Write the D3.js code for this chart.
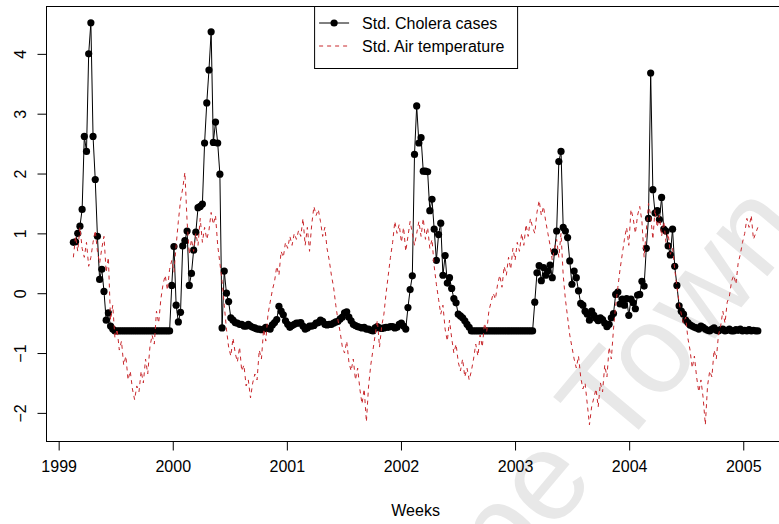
<!DOCTYPE html>
<html><head><meta charset="utf-8">
<script src="https://cdn.jsdelivr.net/npm/d3@7"></script>
<style>body{margin:0;background:#fff}svg{display:block}</style>
</head><body><svg id="c" width="779" height="524"></svg>
<script>
// ---- data ----
const startYear = 1999.129;          // decimal year of first weekly observation
const weekStep = 7 / 365.25;         // one week in years
const cholera = [
0.85,0.86,1.0,1.12,1.4,2.62,2.37,4.0,4.52,2.62,1.9,0.95,0.23,0.4,0.03,-0.45,-0.33,-0.55,-0.6,
-0.63,-0.63,-0.63,-0.63,-0.63,-0.63,-0.63,-0.63,-0.63,-0.63,-0.63,-0.63,-0.63,-0.63,-0.63,-0.63,-0.63,-0.63,-0.63,-0.63,-0.63,-0.63,-0.63,-0.63,-0.63,-0.63,
0.13,0.78,-0.2,-0.48,-0.32,0.79,0.88,1.04,0.13,0.33,0.72,1.02,1.43,1.45,1.49,2.51,3.18,3.73,4.37,2.52,2.86,2.51,1.99,-0.58,0.37,0.0,-0.14,-0.41,
-0.45,-0.49,-0.5,-0.52,-0.52,-0.55,-0.55,-0.52,-0.55,-0.57,
-0.58,-0.6,-0.6,-0.61,-0.6,-0.57,-0.59,-0.6,-0.53,-0.49,
-0.44,-0.22,-0.3,-0.36,-0.46,-0.52,-0.57,-0.54,-0.52,-0.5,
-0.5,-0.49,-0.55,-0.6,-0.58,-0.55,-0.55,-0.54,-0.5,-0.49,
-0.45,-0.47,-0.52,-0.53,-0.52,-0.52,-0.5,-0.48,-0.47,-0.43,
-0.4,-0.33,-0.31,-0.4,-0.46,-0.52,-0.54,-0.56,-0.57,-0.58,
-0.57,-0.6,-0.6,-0.62,-0.63,-0.58,-0.56,-0.58,-0.59,-0.58,
-0.57,-0.57,-0.56,-0.56,-0.58,-0.57,-0.52,-0.5,-0.55,-0.6,
-0.24,0.06,0.29,2.32,3.13,2.51,2.6,2.04,2.04,2.03,
1.38,1.57,1.07,0.55,0.98,1.17,0.3,0.63,0.17,0.26,
0.08,-0.09,-0.16,-0.35,-0.38,-0.41,-0.46,-0.52,-0.57,
-0.63,-0.63,-0.63,-0.63,-0.63,-0.63,-0.63,-0.63,-0.63,-0.63,-0.63,-0.63,-0.63,-0.63,-0.63,-0.63,-0.63,-0.63,-0.63,-0.63,-0.63,-0.63,-0.63,-0.63,-0.63,-0.63,-0.63,-0.63,-0.63,
-0.15,0.34,0.46,0.21,0.43,0.3,0.37,0.47,0.26,0.69,
1.04,2.2,2.37,1.1,1.04,0.93,0.54,0.15,0.37,0.26,
0.04,-0.17,-0.2,-0.3,-0.35,-0.45,-0.3,-0.37,-0.42,-0.46,
-0.41,-0.44,-0.5,-0.56,-0.52,-0.41,-0.34,-0.02,0.02,-0.18,
-0.1,-0.2,-0.09,-0.37,-0.1,-0.16,-0.26,-0.03,-0.02,0.2,
0.12,0.75,1.25,3.68,1.73,1.34,1.38,1.23,1.6,1.07,
1.04,0.79,0.64,1.07,0.45,0.13,-0.21,-0.3,-0.35,-0.45,
-0.49,-0.53,-0.55,-0.57,-0.58,-0.6,-0.55,-0.57,
-0.6,-0.62,-0.63,-0.6,-0.58,-0.62,-0.63,-0.61,-0.6,-0.63,-0.62,-0.6,-0.63,-0.63,-0.61,-0.62,-0.6,-0.63,-0.62,-0.63,-0.61,-0.63,-0.62,-0.63,-0.63
];
const temperature = [
0.6,0.95,0.7,1.1,0.75,0.6,0.85,0.45,0.6,0.85,
1.05,0.7,0.5,0.75,0.95,0.35,0.6,-0.45,-0.2,-0.75,
-0.6,-0.95,-0.8,-1.2,-1.05,-1.45,-1.3,-1.6,-1.78,-1.55,
-1.65,-1.3,-1.5,-1.1,-1.35,-0.9,-0.7,-0.85,-0.3,-0.5,
-0.1,0.15,0.3,0.05,0.4,0.55,0.35,0.8,1.2,1.55,
1.75,2.02,1.2,0.65,0.9,0.7,1.0,0.8,1.25,0.85,
1.1,0.9,1.05,1.35,1.15,1.3,0.8,0.5,0.2,-0.2,
-0.6,-0.9,-1.05,-0.75,-1.0,-1.15,-0.9,-1.3,-1.2,-1.55,
-1.45,-1.75,-1.5,-1.35,-1.45,-0.95,-1.1,-0.6,-0.8,-0.35,
-0.15,0.05,0.2,0.45,0.3,0.7,0.6,0.85,0.75,0.95,
0.8,1.0,0.9,1.05,0.95,1.25,0.8,1.1,0.7,1.15,
1.45,1.3,1.4,1.2,0.95,1.1,0.75,0.55,0.3,0.1,
-0.2,-0.45,-0.65,-0.9,-1.0,-0.8,-1.15,-1.3,-1.1,-1.45,
-1.25,-1.6,-1.85,-1.6,-2.15,-1.55,-1.2,-0.95,-0.7,-0.45,
-0.9,-0.55,-0.35,0.0,0.3,0.6,0.85,1.2,1.0,1.15,
0.85,1.1,0.7,0.95,1.2,1.0,0.8,1.0,1.2,0.95,
1.25,0.9,1.1,0.75,0.9,0.45,0.15,-0.1,-0.35,-0.2,
-0.6,-0.8,-0.45,-0.75,-1.0,-0.85,-1.15,-1.3,-1.1,-1.4,
-1.25,-1.45,-1.3,-1.1,-0.85,-1.05,-0.7,-0.9,-0.5,-0.65,
-0.3,-0.15,0.0,-0.1,0.15,0.3,0.1,0.45,0.3,0.6,
0.4,0.75,0.55,0.85,0.7,1.0,0.8,1.15,0.95,1.25,
1.1,1.0,1.35,1.55,1.3,1.45,1.2,1.0,0.8,0.55,
0.75,0.9,0.6,1.0,0.3,-0.1,-0.4,-0.7,-0.9,-1.1,
-1.25,-1.05,-1.4,-1.6,-1.5,-1.85,-2.2,-1.9,-1.75,-1.6,
-1.9,-1.5,-1.65,-1.2,-1.4,-0.9,-1.1,-0.6,-0.2,0.1,
0.4,0.65,0.9,1.1,0.8,1.4,1.25,1.0,1.3,1.45,
1.2,0.6,1.05,1.5,1.3,0.9,1.4,1.1,1.3,0.95,
1.2,0.85,1.0,0.65,0.75,0.4,0.1,-0.15,-0.35,-0.5,
-0.4,-0.75,-0.95,-1.25,-1.05,-1.4,-1.65,-1.45,-1.75,-2.2,
-1.55,-1.3,-1.4,-0.95,-1.1,-0.7,-0.55,-0.3,-0.5,-0.15,
-0.05,0.2,0.3,0.15,0.5,0.65,0.85,1.0,1.25,1.1,
1.3,0.9,1.0,1.1
];
const xTicks = [1999, 2000, 2001, 2002, 2003, 2004, 2005];
const yTicks = [-2, -1, 0, 1, 2, 3, 4];
const xLabel = "Weeks";
const legendLabels = ["Std. Cholera cases", "Std. Air temperature"];
const watermark = "Cape Town";

// ---- layout ----
const W = 779, H = 524;
const plot = {left: 46, top: 6, bottom: 441};
const font = "'Liberation Sans', Arial, Helvetica, sans-serif";
const svg = d3.select("#c");
svg.append("rect").attr("width", W).attr("height", H).attr("fill", "#fff");

// watermark (faint, behind)
svg.append("text").text(watermark)
  .attr("transform", "translate(605,470) rotate(-50)")
  .attr("text-anchor", "middle")
  .attr("font-family", font).attr("font-size", 126)
  .attr("fill", "#e8e8e8");

const years = cholera.map((d, i) => startYear + i * weekStep);
const xr = d3.extent(years), xpad = (xr[1] - xr[0]) * 0.04;
const pxPerYear = 114.1;
const xDom = [xr[0] - xpad, xr[1] + xpad];
const x = d3.scaleLinear().domain(xDom).range([plot.left, plot.left + (xDom[1] - xDom[0]) * pxPerYear]);
const y = d3.scaleLinear().domain([-2.47, 4.80]).range([plot.bottom, plot.top]);
const plotRight = x(xDom[1]);

// box (left, top, bottom; right edge lies beyond the image)
svg.append("rect")
  .attr("x", plot.left + 0.5).attr("y", plot.top + 0.5)
  .attr("width", plotRight - plot.left).attr("height", plot.bottom - plot.top)
  .attr("fill", "none").attr("stroke", "#000").attr("stroke-width", 1);

// axes
const xAxis = d3.axisBottom(x).tickValues(xTicks).tickFormat(d3.format("d")).tickSize(9).tickPadding(10);
const gx = svg.append("g").attr("transform", `translate(0,${plot.bottom + 0.5})`).call(xAxis);
gx.select(".domain").remove();
gx.selectAll("text").attr("font-family", font).attr("font-size", 16).attr("fill", "#000");
gx.selectAll("line").attr("stroke", "#000");

const yAxis = d3.axisLeft(y).tickValues(yTicks).tickFormat(d => d < 0 ? "\u2212" + Math.abs(d) : d).tickSize(9).tickPadding(0);
const gy = svg.append("g").attr("transform", `translate(${plot.left + 0.5},0)`).call(yAxis);
gy.select(".domain").remove();
gy.selectAll("line").attr("stroke", "#000");
gy.selectAll("text")
  .attr("font-family", font).attr("font-size", 16).attr("fill", "#000")
  .attr("x", null).attr("dy", null)
  .attr("text-anchor", "middle")
  .attr("transform", "translate(-19,0) rotate(-90)")
  .attr("dy", "-0.1em");

svg.append("text").text(xLabel)
  .attr("x", (plot.left + plotRight) / 2).attr("y", 516)
  .attr("text-anchor", "middle").attr("font-family", font).attr("font-size", 16);

// clip
svg.append("clipPath").attr("id", "clip").append("rect")
  .attr("x", plot.left).attr("y", plot.top).attr("width", plotRight - plot.left).attr("height", plot.bottom - plot.top);
const g = svg.append("g").attr("clip-path", "url(#clip)");

const line = d3.line().x((d, i) => x(years[i])).y(d => y(d));
g.append("path").datum(cholera).attr("d", line)
  .attr("fill", "none").attr("stroke", "#000").attr("stroke-width", 1);
g.selectAll("circle.pt").data(cholera).join("circle").attr("class", "pt")
  .attr("cx", (d, i) => x(years[i])).attr("cy", d => y(d)).attr("r", 3.6).attr("fill", "#000");
g.append("path").datum(temperature).attr("d", line)
  .attr("fill", "none").attr("stroke", "#c8282d").attr("stroke-width", 1).attr("stroke-dasharray", "4,4");

// legend
const lw = 203, lh = 62, lx = (plot.left + plotRight) / 2 - lw / 2, ly = plot.top;
const lg = svg.append("g");
lg.append("rect").attr("x", lx + 0.5).attr("y", ly + 0.5).attr("width", lw).attr("height", lh)
  .attr("fill", "#fff").attr("stroke", "#000");
const rowY = [ly + 17, ly + 40];
lg.append("line").attr("x1", lx + 5).attr("x2", lx + 35).attr("y1", rowY[0]).attr("y2", rowY[0]).attr("stroke", "#000");
lg.append("circle").attr("cx", lx + 20).attr("cy", rowY[0]).attr("r", 3.6).attr("fill", "#000");
lg.append("line").attr("x1", lx + 5).attr("x2", lx + 35).attr("y1", rowY[1]).attr("y2", rowY[1])
  .attr("stroke", "#c8282d").attr("stroke-dasharray", "4,4");
lg.selectAll("text.lab").data(legendLabels).join("text").attr("class", "lab")
  .attr("x", lx + 48).attr("y", (d, i) => rowY[i]).attr("dy", "0.35em")
  .attr("font-family", font).attr("font-size", 16).text(d => d);
</script></body></html>
